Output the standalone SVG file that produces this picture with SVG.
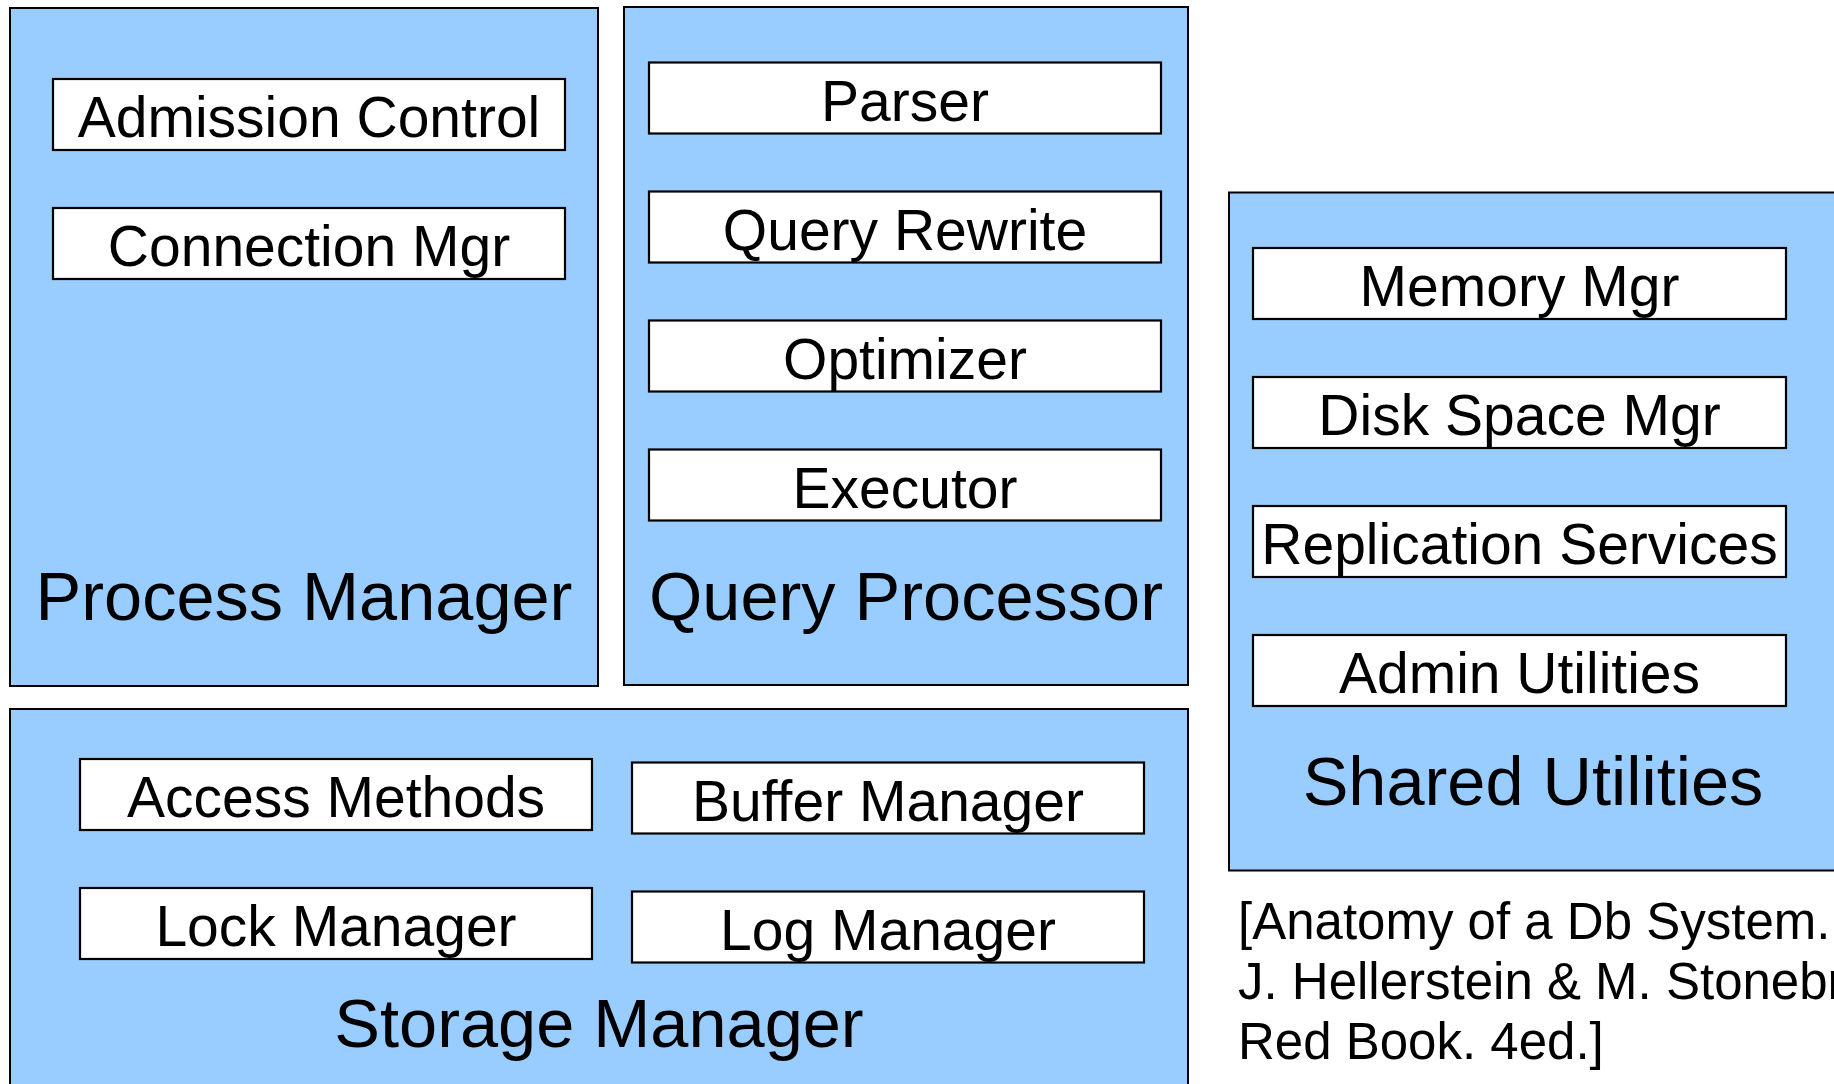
<svg xmlns="http://www.w3.org/2000/svg" width="1834" height="1084" viewBox="0 0 1834 1084">
<style>
.grp{fill:#99ccff;stroke:#000;stroke-width:2}
.box{fill:#fff;stroke:#000;stroke-width:2.2}
text{font-family:"Liberation Sans",Arial,sans-serif;fill:#000;text-anchor:middle}
.lbl{font-size:57px}
.big{font-size:68.5px}
.cite{font-size:51px;text-anchor:start}
</style>
<rect width="1834" height="1084" fill="#fff"/>
<g id="process-manager">
<rect class="grp" x="10" y="8" width="588" height="678"/>
<text class="big" x="304" y="620">Process Manager</text>
</g>
<g id="admission-control">
<rect class="box" x="53" y="79" width="512" height="71"/>
<text class="lbl" x="309" y="137">Admission Control</text>
</g>
<g id="connection-mgr">
<rect class="box" x="53" y="208" width="512" height="71"/>
<text class="lbl" x="309" y="266">Connection Mgr</text>
</g>
<g id="query-processor">
<rect class="grp" x="624" y="7" width="564" height="678"/>
<text class="big" x="906" y="620">Query Processor</text>
</g>
<g id="parser">
<rect class="box" x="649" y="62.5" width="512" height="71"/>
<text class="lbl" x="905" y="120.5">Parser</text>
</g>
<g id="query-rewrite">
<rect class="box" x="649" y="191.5" width="512" height="71"/>
<text class="lbl" x="905" y="249.5">Query Rewrite</text>
</g>
<g id="optimizer">
<rect class="box" x="649" y="320.5" width="512" height="71"/>
<text class="lbl" x="905" y="378.5">Optimizer</text>
</g>
<g id="executor">
<rect class="box" x="649" y="449.5" width="512" height="71"/>
<text class="lbl" x="905" y="507.5">Executor</text>
</g>
<g id="shared-utilities">
<rect class="grp" x="1229" y="192.5" width="700" height="678"/>
<text class="big" x="1533" y="805">Shared Utilities</text>
</g>
<g id="memory-mgr">
<rect class="box" x="1253" y="248" width="533" height="71"/>
<text class="lbl" x="1519.5" y="306">Memory Mgr</text>
</g>
<g id="disk-space-mgr">
<rect class="box" x="1253" y="377" width="533" height="71"/>
<text class="lbl" x="1519.5" y="435">Disk Space Mgr</text>
</g>
<g id="replication-services">
<rect class="box" x="1253" y="506" width="533" height="71"/>
<text class="lbl" x="1519.5" y="564">Replication Services</text>
</g>
<g id="admin-utilities">
<rect class="box" x="1253" y="635" width="533" height="71"/>
<text class="lbl" x="1519.5" y="693">Admin Utilities</text>
</g>
<g id="storage-manager">
<rect class="grp" x="10" y="709" width="1178" height="420"/>
<text class="big" x="599" y="1047">Storage Manager</text>
</g>
<g id="access-methods">
<rect class="box" x="80" y="759" width="512" height="71"/>
<text class="lbl" x="336" y="817">Access Methods</text>
</g>
<g id="buffer-manager">
<rect class="box" x="632" y="762.5" width="512" height="71"/>
<text class="lbl" x="888" y="820.5">Buffer Manager</text>
</g>
<g id="lock-manager">
<rect class="box" x="80" y="888" width="512" height="71"/>
<text class="lbl" x="336" y="946">Lock Manager</text>
</g>
<g id="log-manager">
<rect class="box" x="632" y="891.5" width="512" height="71"/>
<text class="lbl" x="888" y="949.5">Log Manager</text>
</g>
<g id="citation">
<text class="cite" x="1238" y="939">[Anatomy of a Db System.</text>
<text class="cite" x="1238" y="999">J. Hellerstein &amp; M. Stonebr</text>
<text class="cite" x="1238" y="1059">Red Book. 4ed.]</text>
</g>
<g id="connectors"></g>
</svg>
